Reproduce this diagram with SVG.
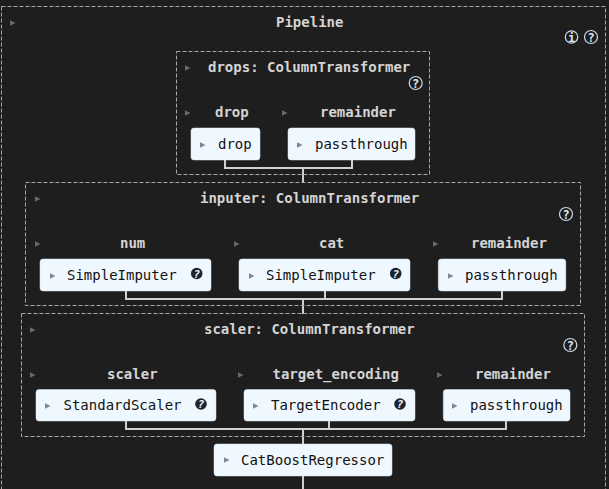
<svg xmlns="http://www.w3.org/2000/svg" width="609" height="489" viewBox="0 0 609 489">
<style>
text{font-family:"DejaVu Sans Mono","Liberation Mono",monospace;font-size:14px}
.t{fill:#d4d4d4;font-weight:bold}
.b{fill:#111}
.c{fill:none;stroke:#a8a8a8;stroke-width:1;stroke-dasharray:4 2}
.n{fill:#f0f8ff;stroke:#dfe8ef;stroke-width:.5}
.l{fill:none;stroke:#d0d0d0;stroke-width:2}
.ar{fill:#6a6a6a}
.ab{fill:#7b8794}
.q{fill:#1e1e1e;stroke:#c8dcec;stroke-width:1.2}
.qt{fill:#d8e8f4;font-size:12px;font-weight:bold;text-anchor:middle}
.d{fill:#1b2430}
.dt{fill:#f0f8ff;font-size:11px;font-weight:bold;font-style:italic;text-anchor:middle}
</style>
<defs>
<path id="a" d="M0 -2.800L5.500 0L0 2.800Z"/>
</defs>
<rect width="609" height="489" fill="#1e1e1e"/>
<g id="connectors">
<path class="l" d="M225 160V168H352V160M303 168V183"/>
<path class="l" d="M126 291V299H502V291M325 291V299M303 299V314"/>
<path class="l" d="M126 421V429H506V421M329 421V429M303 429V444M303 476V489"/>
</g>
<g id="pipeline">
<rect class="c" x="1.500" y="6.500" width="604" height="490"/>
<use href="#a" class="ar" x="10" y="23"/>
<text class="t" x="276" y="27">Pipeline</text>
<circle class="q" cx="571.500" cy="37" r="6.200"/><text class="qt" x="571.500" y="41.500">i</text>
<circle class="q" cx="591" cy="37" r="6.500"/><text class="qt" x="591" y="41.500">?</text>
</g>
<g id="drops">
<rect class="c" x="176.500" y="51.500" width="253" height="123"/>
<use href="#a" class="ar" x="185" y="68"/>
<text class="t" x="208" y="72">drops: ColumnTransformer</text>
<circle class="q" cx="415.700" cy="83" r="6.500"/><text class="qt" x="415.700" y="87.500">?</text>
<use href="#a" class="ar" x="185" y="113"/>
<text class="t" x="215" y="117">drop</text>
<use href="#a" class="ar" x="282" y="113"/>
<text class="t" x="320" y="117">remainder</text>
</g>
<g id="drops-drop">
<rect class="n" x="191" y="128" width="69" height="32" rx="3"/>
<use href="#a" class="ab" x="200" y="145"/>
<text class="b" x="218" y="149">drop</text>
</g>
<g id="drops-remainder">
<rect class="n" x="288" y="128" width="127" height="32" rx="3"/>
<use href="#a" class="ab" x="297" y="145"/>
<text class="b" x="315" y="149">passthrough</text>
</g>
<g id="inputer">
<rect class="c" x="25.500" y="182.500" width="555" height="123"/>
<use href="#a" class="ar" x="35" y="199"/>
<text class="t" x="200" y="203">inputer: ColumnTransformer</text>
<circle class="q" cx="566" cy="214" r="6.500"/><text class="qt" x="566" y="218.500">?</text>
<use href="#a" class="ar" x="35" y="244"/>
<text class="t" x="120" y="248">num</text>
<use href="#a" class="ar" x="234" y="244"/>
<text class="t" x="319" y="248">cat</text>
<use href="#a" class="ar" x="433" y="244"/>
<text class="t" x="471" y="248">remainder</text>
</g>
<g id="inputer-num">
<rect class="n" x="40" y="259" width="171" height="32" rx="3"/>
<use href="#a" class="ab" x="50" y="276"/>
<text class="b" x="67" y="280">SimpleImputer</text>
<circle class="d" cx="196.700" cy="273.500" r="5.800"/><text class="dt" x="196.700" y="277.500">?</text>
</g>
<g id="inputer-cat">
<rect class="n" x="239" y="259" width="171" height="32" rx="3"/>
<use href="#a" class="ab" x="249" y="276"/>
<text class="b" x="266" y="280">SimpleImputer</text>
<circle class="d" cx="395.700" cy="273.500" r="5.800"/><text class="dt" x="395.700" y="277.500">?</text>
</g>
<g id="inputer-remainder">
<rect class="n" x="438.300" y="259" width="127.500" height="32" rx="3"/>
<use href="#a" class="ab" x="448" y="276"/>
<text class="b" x="465" y="280">passthrough</text>
</g>
<g id="scaler">
<rect class="c" x="21.500" y="313.500" width="563" height="123"/>
<use href="#a" class="ar" x="30" y="330"/>
<text class="t" x="204" y="334">scaler: ColumnTransformer</text>
<circle class="q" cx="570.300" cy="345" r="6.500"/><text class="qt" x="570.300" y="349.500">?</text>
<use href="#a" class="ar" x="30" y="375"/>
<text class="t" x="107" y="379">scaler</text>
<use href="#a" class="ar" x="238" y="375"/>
<text class="t" x="272.500" y="379">target_encoding</text>
<use href="#a" class="ar" x="437" y="375"/>
<text class="t" x="475" y="379">remainder</text>
</g>
<g id="scaler-scaler">
<rect class="n" x="36" y="389.500" width="180" height="31.500" rx="3"/>
<use href="#a" class="ab" x="45" y="406"/>
<text class="b" x="63.500" y="410">StandardScaler</text>
<circle class="d" cx="201" cy="404" r="5.800"/><text class="dt" x="201" y="408">?</text>
</g>
<g id="scaler-target">
<rect class="n" x="244" y="389.500" width="171" height="31.500" rx="3"/>
<use href="#a" class="ab" x="253" y="406"/>
<text class="b" x="271" y="410">TargetEncoder</text>
<circle class="d" cx="400" cy="404" r="5.800"/><text class="dt" x="400" y="408">?</text>
</g>
<g id="scaler-remainder">
<rect class="n" x="443.300" y="389.500" width="126.700" height="31.500" rx="3"/>
<use href="#a" class="ab" x="452" y="406"/>
<text class="b" x="470" y="410">passthrough</text>
</g>
<g id="catboost">
<rect class="n" x="214" y="444" width="178" height="32" rx="3"/>
<use href="#a" class="ab" x="224" y="460"/>
<text class="b" x="241" y="465">CatBoostRegressor</text>
</g>
</svg>
